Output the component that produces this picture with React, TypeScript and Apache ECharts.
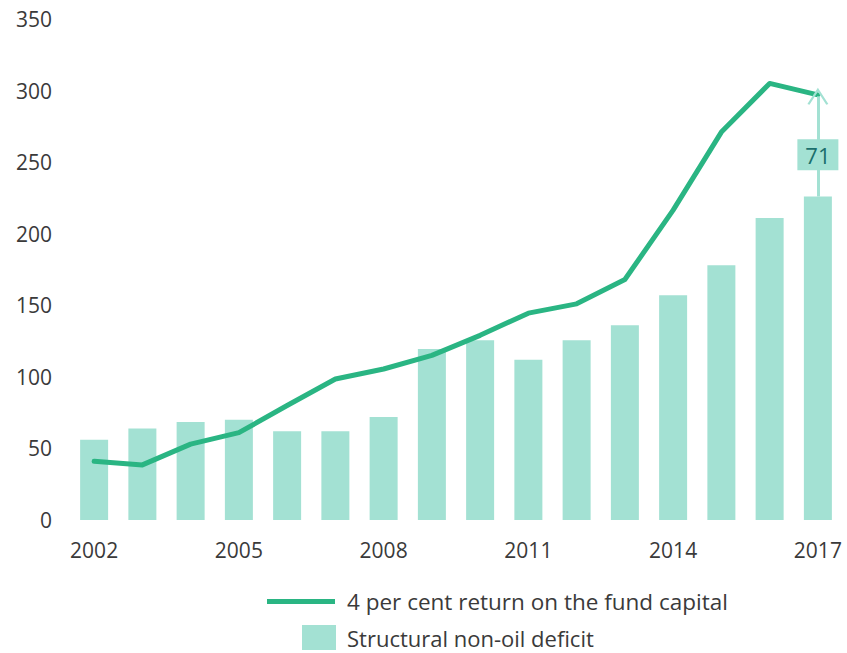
import React, { useEffect, useRef } from "react";
import * as echarts from "echarts";

const years = ["2002","2003","2004","2005","2006","2007","2008","2009","2010","2011","2012","2013","2014","2015","2016","2017"];
const deficit = [56, 64, 68.5, 70, 62, 62, 72, 119.5, 125.5, 112, 125.5, 136, 157, 178, 211, 226];
const fundReturn = [41, 38.5, 53, 61, 80, 98.5, 105.5, 115, 129, 144.5, 151, 168, 216.5, 271, 305, 297];
const yTicks = [0, 50, 100, 150, 200, 250, 300, 350];
const lineName = "4 per cent return on the fund capital";
const barName = "Structural non-oil deficit";

const GREEN = "#2ab583";
const LIGHT = "#a3e1d3";
const TEXT = "#3a3a3a";
const FONT = "'Open Sans', 'Noto Sans', sans-serif";

export default function App() {
  const ref = useRef<HTMLDivElement>(null);
  useEffect(() => {
    if (!ref.current) return;
    const chart = echarts.init(ref.current, undefined, { renderer: "svg" });
    const last = years.length - 1;
    const gap = fundReturn[last] - deficit[last];
    const chevron = "path://M0,20 L10,0 L20,20 L18,21 L10,5 L2,21 Z";
    chart.setOption({
      animation: false,
      textStyle: { fontFamily: FONT },
      grid: { left: 70, right: 5, top: 19, bottom: 133 },
      legend: [
        {
          data: [{ name: lineName, icon: "rect" }],
          left: 267,
          top: 590,
          padding: 0,
          itemWidth: 68,
          itemHeight: 5,
          textStyle: { fontSize: 22.5, lineHeight: 23, color: TEXT, fontFamily: FONT, padding: [0, 0, 0, 7] },
          selectedMode: false,
        },
        {
          data: [{ name: barName, icon: "rect" }],
          left: 302,
          top: 625,
          padding: 0,
          itemWidth: 34,
          itemHeight: 25,
          textStyle: { fontSize: 22, lineHeight: 20, color: TEXT, fontFamily: FONT, padding: [0, 0, 0, 6] },
          selectedMode: false,
        },
      ],
      xAxis: {
        type: "category",
        data: years,
        axisLine: { show: false },
        axisTick: { show: false },
        axisLabel: { interval: 2, color: TEXT, fontSize: 21, margin: 19, fontFamily: FONT },
      },
      yAxis: {
        type: "value",
        min: yTicks[0],
        max: yTicks[yTicks.length - 1],
        interval: 50,
        axisLine: { show: false },
        axisTick: { show: false },
        splitLine: { show: false },
        axisLabel: { color: TEXT, fontSize: 21, margin: 18, fontFamily: FONT },
      },
      series: [
        {
          name: barName,
          type: "bar",
          data: deficit,
          barWidth: 28,
          itemStyle: { color: LIGHT },
          z: 1,
          markLine: {
            silent: true,
            symbol: ["none", chevron],
            symbolSize: [21, 17],
            lineStyle: { color: LIGHT, width: 3, type: "solid" },
            label: { show: false },
            data: [[
              { coord: [years[last], deficit[last]] },
              { coord: [years[last], fundReturn[last] - 1] },
            ]],
          },
          markPoint: {
            silent: true,
            symbol: "rect",
            symbolSize: [41, 31],
            symbolOffset: [0, 9],
            itemStyle: { color: LIGHT },
            label: { show: true, color: "#1b6f6c", fontSize: 22, fontFamily: FONT, formatter: String(Math.round(gap)) },
            data: [{ coord: [years[last], (deficit[last] + fundReturn[last]) / 2] }],
          },
        },
        {
          name: lineName,
          type: "line",
          data: fundReturn,
          symbol: "none",
          z: 3,
          lineStyle: { color: GREEN, width: 5, cap: "round", join: "round" },
          itemStyle: { color: GREEN },
        },
      ],
    });
    return () => chart.dispose();
  }, []);
  return <div ref={ref} style={{ position: "absolute", left: 0, top: 0, width: 847, height: 653 }} />;
}
